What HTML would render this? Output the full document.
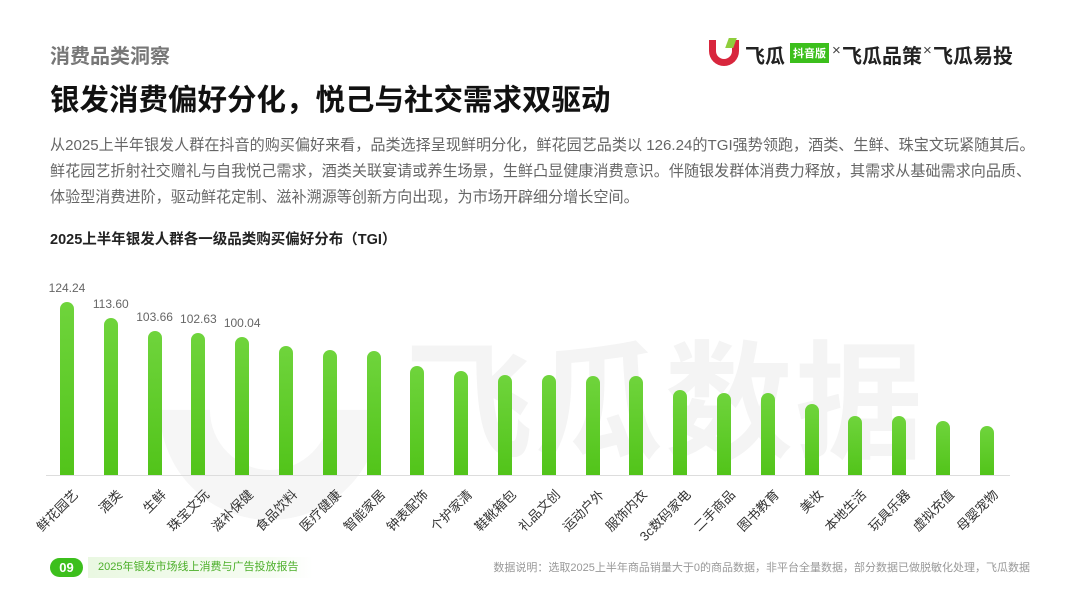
<!DOCTYPE html>
<html><head><meta charset="utf-8"><style>
*{margin:0;padding:0;box-sizing:border-box}
body{width:1080px;height:607px;background:#fff;position:relative;overflow:hidden;font-family:"Liberation Sans","Noto Sans CJK SC",sans-serif}
.a{position:absolute;white-space:nowrap}
.bar{position:absolute;width:14px;border-radius:7px 7px 0 0;background:linear-gradient(#6fd43c,#52c41a)}
.lbl{position:absolute;font-size:13px;color:#333;transform-origin:100% 50%;transform:rotate(-45deg);white-space:nowrap;text-align:right}
.val{position:absolute;font-size:12px;color:#666;width:60px;text-align:center}
</style></head><body>
<div class="a" style="left:405px;top:300px;font-size:128px;font-weight:bold;color:#f4f4f4;letter-spacing:2px">飞瓜数据</div>
<div class="a" style="left:160px;top:300px;width:220px;height:220px;border-radius:50%;border:50px solid #f6f6f6;border-top-color:transparent;border-right-color:transparent;transform:rotate(-45deg)"></div>

<div class="a" style="left:50px;top:40px;font-size:20px;font-weight:bold;color:#777">消费品类洞察</div>
<div class="a" style="left:50px;top:77px;font-size:29.5px;font-weight:bold;color:#111">银发消费偏好分化，悦己与社交需求双驱动</div>
<div class="a" style="left:50px;top:133px;font-size:15.1px;color:#666;line-height:26px">从2025上半年银发人群在抖音的购买偏好来看，品类选择呈现鲜明分化，鲜花园艺品类以 126.24的TGI强势领跑，酒类、生鲜、珠宝文玩紧随其后。<br>鲜花园艺折射社交赠礼与自我悦己需求，酒类关联宴请或养生场景，生鲜凸显健康消费意识。伴随银发群体消费力释放，其需求从基础需求向品质、<br>体验型消费进阶，驱动鲜花定制、滋补溯源等创新方向出现，为市场开辟细分增长空间。</div>
<div class="a" style="left:50px;top:228px;font-size:14.5px;font-weight:bold;color:#222">2025上半年银发人群各一级品类购买偏好分布（TGI）</div>

<div class="a" style="left:707px;top:40px;width:34px;height:26px;">
<div style="position:absolute;left:2px;top:0;width:30px;height:26px;border:7px solid #d8263d;border-top:none;border-radius:0 0 16px 16px"></div>
<div style="position:absolute;left:20px;top:-2px;width:8px;height:10px;background:#8fce3c;transform:skewX(-20deg)"></div>
</div>
<div class="a" style="left:745px;top:40px;font-size:20px;font-weight:bold;color:#222">飞瓜</div>
<div class="a" style="left:790px;top:43px;font-size:11px;font-weight:bold;color:#fff;background:#3cbf1c;padding:2px 3px">抖音版</div>
<div class="a" style="left:832px;top:42px;font-size:15px;color:#444">×</div>
<div class="a" style="left:842px;top:40px;font-size:20px;font-weight:bold;color:#222">飞瓜品策</div>
<div class="a" style="left:923px;top:42px;font-size:15px;color:#444">×</div>
<div class="a" style="left:933px;top:40px;font-size:20px;font-weight:bold;color:#222">飞瓜易投</div>

<div class="a" style="left:46px;top:475px;width:964px;height:1px;background:#ddd"></div>
<div id="c"></div>

<div class="a" style="left:50px;top:558px;width:33px;height:19px;border-radius:10px;background:#3cbf1c;color:#fff;font-weight:bold;font-size:13px;text-align:center;line-height:19px">09</div>
<div class="a" style="left:88px;top:557px;width:225px;height:21px;background:linear-gradient(90deg,#eaf8e2,#f6fcf2 80%,#fff);font-size:11px;color:#4caf2a;line-height:21px;padding-left:10px">2025年银发市场线上消费与广告投放报告</div>
<div class="a" style="right:50px;top:559px;font-size:11px;color:#999">数据说明：选取2025上半年商品销量大于0的商品数据，非平台全量数据，部分数据已做脱敏化处理，飞瓜数据</div>
<script>
var n=["鲜花园艺","酒类","生鲜","珠宝文玩","滋补保健","食品饮料","医疗健康","智能家居","钟表配饰","个护家清","鞋靴箱包","礼品文创","运动户外","服饰内衣","3c数码家电","二手商品","图书教育","美妆","本地生活","玩具乐器","虚拟充值","母婴宠物"];
var t=[302,318,331,333,337,346,350,351,366,371,375,375,376,376,390,393,393,404,416,416,421,426];
var v=["124.24","113.60","103.66","102.63","100.04"];
var h="";
for(var i=0;i<22;i++){var x=67+i*43.8;
h+='<div class="bar" style="left:'+(x-7)+'px;top:'+t[i]+'px;height:'+(475-t[i])+'px"></div>';
h+='<div class="lbl" style="right:'+(1080-x-8)+'px;top:482px">'+n[i]+'</div>';
if(i<5)h+='<div class="val" style="left:'+(x-30)+'px;top:'+(t[i]-21)+'px">'+v[i]+'</div>';}
document.getElementById("c").innerHTML=h;
</script>
</body></html>
